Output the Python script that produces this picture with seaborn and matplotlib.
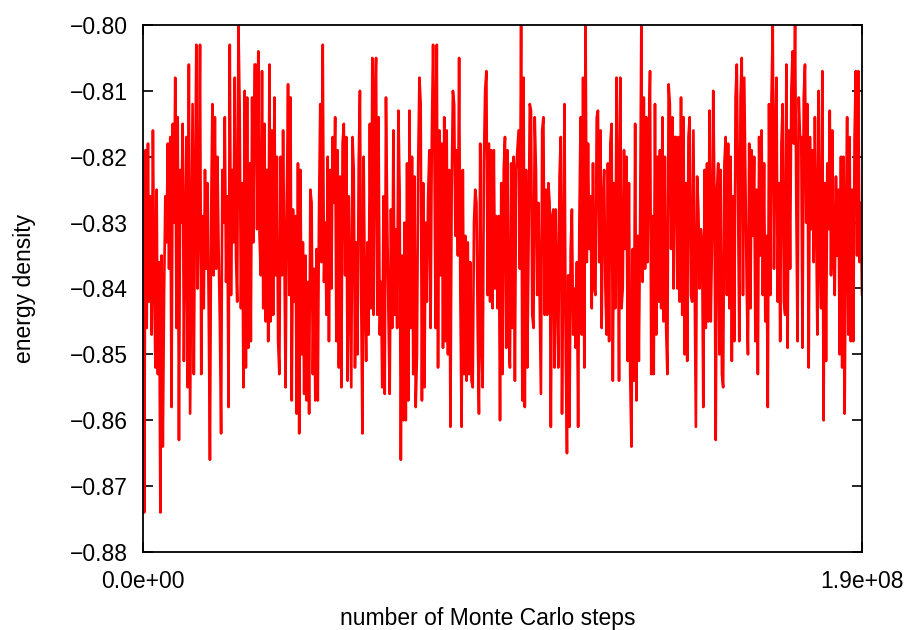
import numpy as np
import pandas as pd
import matplotlib
matplotlib.use("Agg")
import matplotlib.pyplot as plt
from matplotlib.ticker import FuncFormatter
import seaborn as sns

# ---- data ----
energy_part1 = [
    -0.820, -0.874, -0.819, -0.846, -0.818, -0.842, -0.826, -0.847, -0.816, -0.838, -0.852, -0.825, -0.853, -0.836, -0.874, -0.835,
    -0.864, -0.841, -0.826, -0.833, -0.818, -0.837, -0.817, -0.858, -0.815, -0.830, -0.808, -0.846, -0.814, -0.863, -0.822, -0.830,
    -0.815, -0.851, -0.832, -0.817, -0.855, -0.806, -0.859, -0.835, -0.812, -0.853, -0.826, -0.803, -0.840, -0.828,
    -0.803, -0.853, -0.829, -0.843, -0.822, -0.837, -0.824, -0.843, -0.866, -0.828, -0.812, -0.838, -0.814, -0.837, -0.820, -0.834,
    -0.845, -0.862, -0.822, -0.830, -0.814, -0.839, -0.826, -0.858, -0.803, -0.841, -0.822, -0.833, -0.808, -0.835, -0.842, -0.800,
    -0.813, -0.843, -0.824, -0.855, -0.810, -0.852, -0.811, -0.849, -0.821, -0.848, -0.811, -0.833, -0.806,
]
energy_part2 = [
    -0.806, -0.831, -0.804, -0.832, -0.838, -0.807, -0.843, -0.815, -0.845, -0.822, -0.848, -0.806, -0.845, -0.816, -0.844, -0.811,
    -0.838, -0.820, -0.848, -0.853, -0.820, -0.838, -0.816, -0.834, -0.855, -0.827, -0.809, -0.841, -0.811, -0.857, -0.828, -0.842,
    -0.829, -0.859, -0.821, -0.862, -0.822, -0.850, -0.833, -0.856, -0.835, -0.857, -0.839, -0.859, -0.825, -0.827, -0.853, -0.837,
    -0.857, -0.834,
    -0.857, -0.828, -0.812, -0.836, -0.803, -0.839, -0.830, -0.844, -0.820, -0.848, -0.822, -0.840, -0.817, -0.827, -0.814, -0.848,
    -0.819, -0.852, -0.823, -0.855, -0.818, -0.815, -0.838, -0.817, -0.854, -0.826, -0.840, -0.855, -0.817, -0.822, -0.852, -0.833,
    -0.850, -0.821, -0.810, -0.841, -0.862, -0.820, -0.841, -0.851, -0.833, -0.847, -0.815, -0.843, -0.805, -0.844, -0.813,
]
energy_part3 = [
    -0.805, -0.844, -0.814, -0.847, -0.839, -0.855, -0.826, -0.856, -0.811, -0.829, -0.844, -0.856, -0.828, -0.846, -0.816, -0.844,
    -0.831, -0.846, -0.813, -0.825, -0.866, -0.835, -0.860, -0.830, -0.860, -0.821, -0.857, -0.813, -0.846, -0.820, -0.853, -0.823,
    -0.858, -0.850, -0.821, -0.808, -0.812, -0.857, -0.824, -0.855, -0.830, -0.842, -0.826, -0.819, -0.846, -0.817, -0.803,
    -0.817, -0.846, -0.803, -0.852, -0.816, -0.838, -0.818, -0.849, -0.814, -0.848, -0.816, -0.850, -0.822, -0.861, -0.825, -0.810,
    -0.812, -0.832, -0.819, -0.835, -0.805, -0.841, -0.861, -0.822, -0.853, -0.832, -0.854, -0.833, -0.853, -0.836, -0.854, -0.855,
    -0.830, -0.825, -0.827, -0.846, -0.859, -0.818, -0.848, -0.855, -0.821, -0.810, -0.807, -0.841, -0.818, -0.842, -0.819, -0.843,
]
energy_part4 = [
    -0.819, -0.840, -0.829, -0.843, -0.829, -0.860, -0.824, -0.853, -0.822, -0.817, -0.849, -0.819, -0.847, -0.852, -0.821, -0.846,
    -0.820, -0.854, -0.822, -0.819, -0.816, -0.837, -0.800, -0.857, -0.808, -0.858, -0.822, -0.852, -0.834, -0.812, -0.813, -0.844,
    -0.846, -0.814, -0.822, -0.841, -0.827, -0.841, -0.856, -0.816, -0.814, -0.844, -0.825, -0.844, -0.824, -0.827, -0.861, -0.829,
    -0.828, -0.852,
    -0.828, -0.839, -0.852, -0.823, -0.817, -0.859, -0.837, -0.812, -0.850, -0.865, -0.838, -0.861, -0.834, -0.828, -0.847, -0.840,
    -0.849, -0.836, -0.861, -0.830, -0.814, -0.847, -0.808, -0.852, -0.800, -0.836, -0.818, -0.834, -0.826, -0.843, -0.821, -0.840,
    -0.841, -0.814, -0.813, -0.836, -0.816, -0.846, -0.827, -0.822, -0.840, -0.847, -0.821, -0.848, -0.818, -0.815, -0.854, -0.824,
    -0.843, -0.808,
]
energy_part5 = [
    -0.824, -0.854, -0.808, -0.843, -0.840, -0.819, -0.834, -0.820, -0.851, -0.824, -0.853, -0.864, -0.834, -0.854, -0.815, -0.857,
    -0.832, -0.851, -0.830, -0.800, -0.839, -0.811, -0.837, -0.814, -0.836, -0.817, -0.807, -0.853, -0.829, -0.853, -0.812, -0.847,
    -0.820, -0.842, -0.819, -0.843, -0.814, -0.845, -0.820, -0.846, -0.853, -0.809, -0.812, -0.834, -0.814, -0.840, -0.817,
    -0.817, -0.840, -0.817, -0.842, -0.811, -0.844, -0.814, -0.850, -0.824, -0.851, -0.817, -0.814, -0.841, -0.842, -0.816, -0.839,
    -0.861, -0.823, -0.828, -0.840, -0.831, -0.833, -0.858, -0.822, -0.846, -0.821, -0.845, -0.813, -0.845, -0.833, -0.810, -0.826,
    -0.863, -0.825, -0.821, -0.850, -0.822, -0.853, -0.855, -0.821, -0.817, -0.841, -0.818, -0.843, -0.820, -0.851, -0.826, -0.848,
    -0.811, -0.806,
]
energy_part6 = [
    -0.826, -0.848, -0.811, -0.805, -0.841, -0.808, -0.824, -0.840, -0.850, -0.818, -0.843, -0.819, -0.832, -0.820, -0.848, -0.825,
    -0.853, -0.817, -0.835, -0.816, -0.841, -0.821, -0.845, -0.832, -0.858, -0.812, -0.841, -0.811, -0.800, -0.837, -0.817, -0.808,
    -0.842, -0.824, -0.848, -0.818, -0.812, -0.842, -0.844, -0.806, -0.849, -0.816, -0.837, -0.810, -0.804, -0.818, -0.800, -0.827,
    -0.848, -0.811, -0.817,
    -0.817, -0.849, -0.811, -0.806, -0.830, -0.812, -0.852, -0.817, -0.831, -0.819, -0.836, -0.814, -0.829, -0.847, -0.810, -0.835,
    -0.843, -0.807, -0.860, -0.824, -0.851, -0.821, -0.831, -0.813, -0.838, -0.816, -0.834, -0.841, -0.823, -0.835, -0.825, -0.850,
    -0.820, -0.852, -0.820, -0.859, -0.831, -0.814, -0.847, -0.817, -0.848, -0.825, -0.848, -0.817, -0.807, -0.835, -0.807, -0.836,
    -0.827, -0.841,
]
energy = energy_part1 + energy_part2 + energy_part3 + energy_part4 + energy_part5 + energy_part6

x_max = 1.9e8
x_ticks = [0.0, 1.9e8]
x_tick_labels = ["0.0e+00", "1.9e+08"]
y_ticks = [-0.88, -0.87, -0.86, -0.85, -0.84, -0.83, -0.82, -0.81, -0.80]

steps = np.linspace(0.0, x_max, len(energy))
df = pd.DataFrame({"steps": steps, "energy": energy})

# ---- style ----
sns.set_style("ticks")
plt.rcParams["font.family"] = ["Liberation Sans", "DejaVu Sans"]
plt.rcParams["text.color"] = "black"
plt.rcParams["axes.labelcolor"] = "black"
plt.rcParams["xtick.color"] = "black"
plt.rcParams["ytick.color"] = "black"

fig = plt.figure(figsize=(9.09, 6.30), dpi=100)
L, R, T, B = 143, 862, 25, 552
ax = fig.add_axes([L / 909, 1 - B / 630, (R - L) / 909, (B - T) / 630])

sns.lineplot(data=df, x="steps", y="energy", color="#ff0000", linewidth=1.9, ax=ax, estimator=None, sort=False)

ax.set_xlim(0, x_max)
ax.set_ylim(-0.88, -0.80)
ax.set_xticks(x_ticks)
ax.set_xticklabels(x_tick_labels)
ax.set_yticks(y_ticks)
ax.yaxis.set_major_formatter(FuncFormatter(lambda v, p: f"{v:.2f}".replace("-", "\u2212")))

ax.tick_params(axis="both", direction="in", length=7, width=1.2, labelsize=16.5,
               colors="black", top=True, right=True)
ax.tick_params(axis="y", pad=11)
ax.tick_params(axis="x", pad=13)
for s in ax.spines.values():
    s.set_visible(True)
    s.set_linewidth(1.3)
    s.set_color("black")

ax.set_xlabel("number of Monte Carlo steps", fontsize=16.5)
ax.set_ylabel("energy density", fontsize=16.5)
ax.xaxis.set_label_coords((488 - L) / (R - L), (B - 607) / (B - T))
ax.yaxis.set_label_coords((36 - L) / (R - L), 0.5)

fig.savefig("out.png", dpi=100)
